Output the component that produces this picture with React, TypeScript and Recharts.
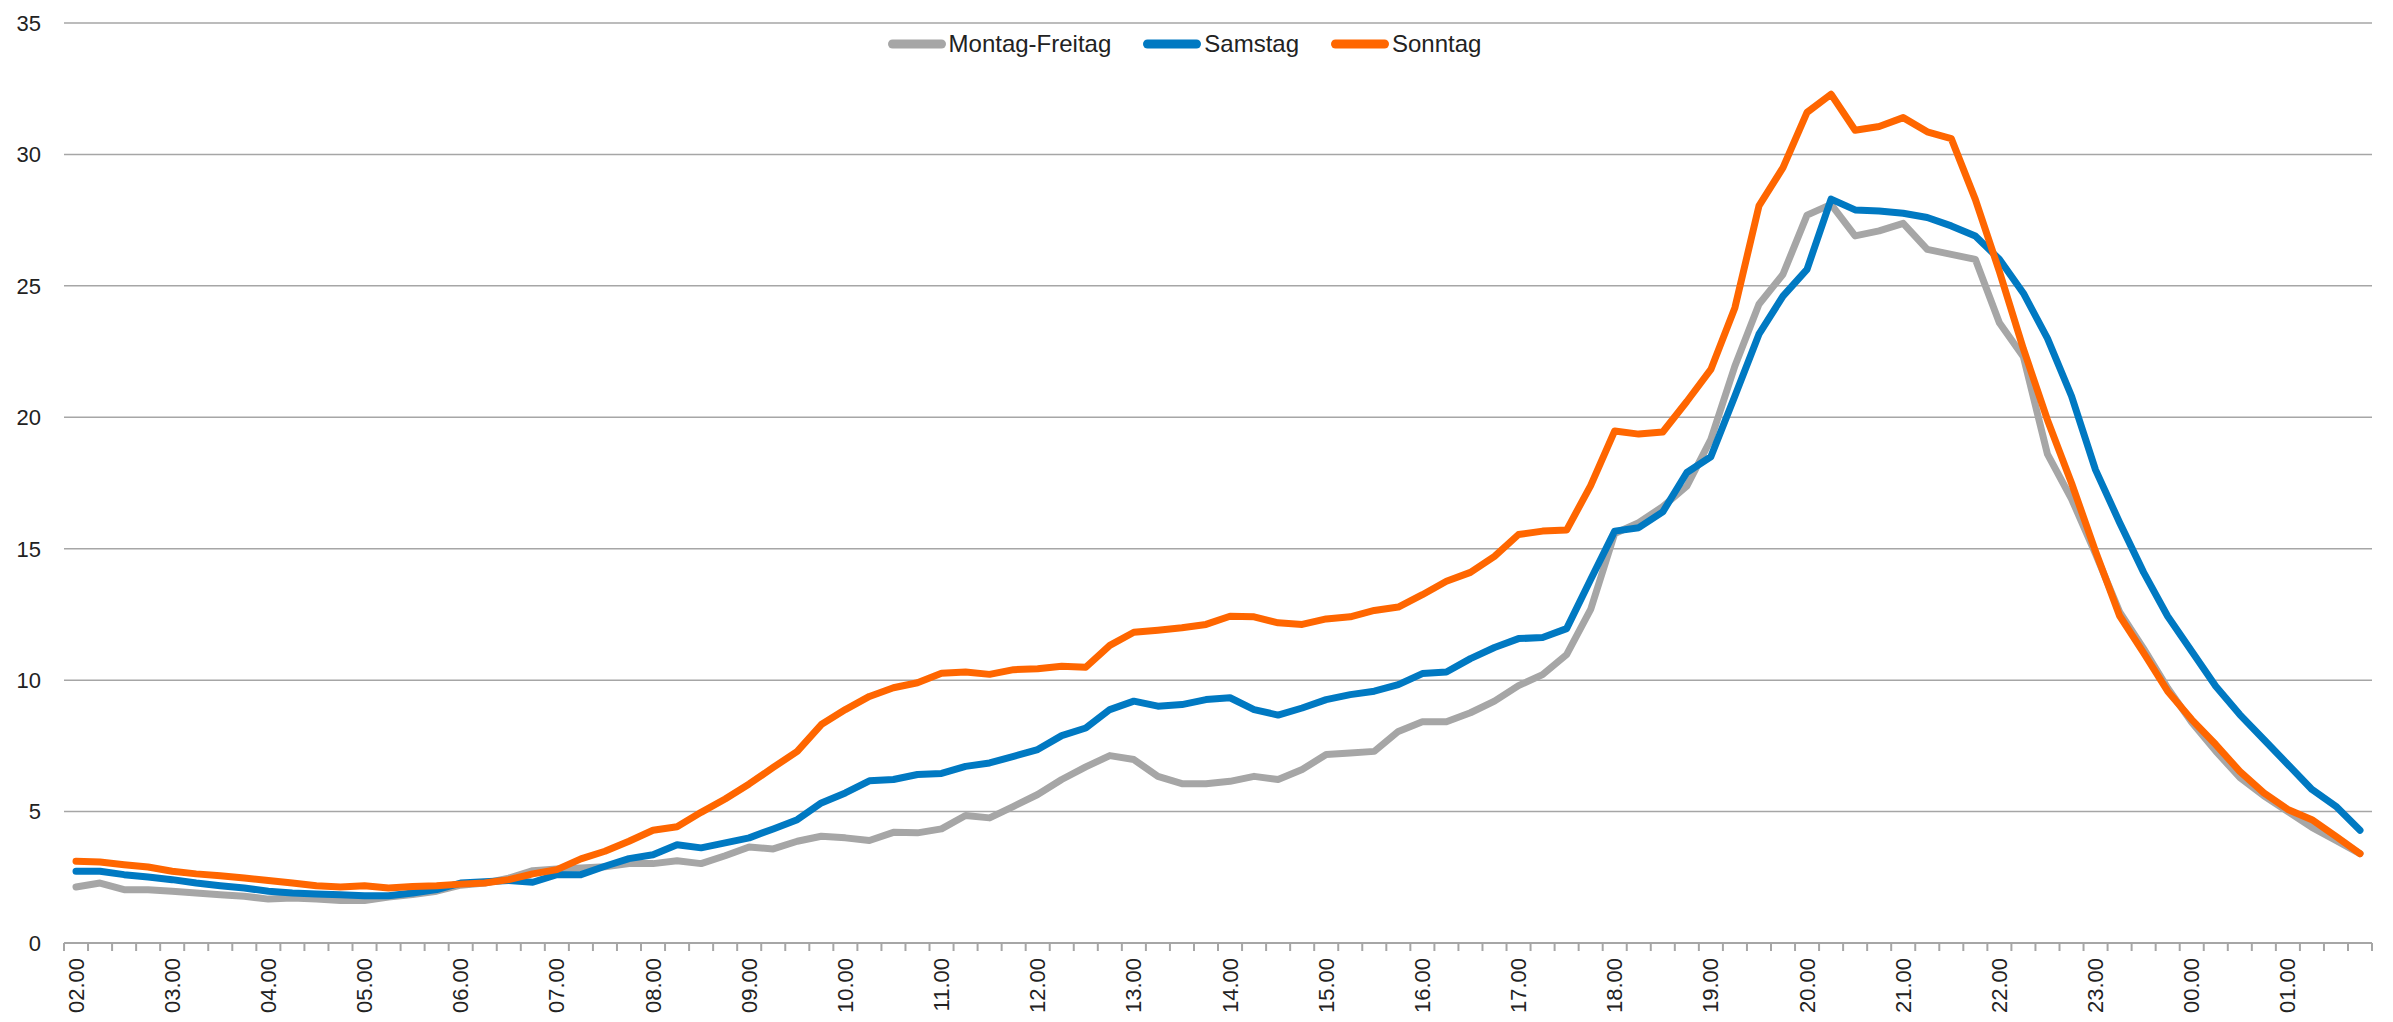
import React from 'react';
import { LineChart, Line, XAxis, YAxis, CartesianGrid, Legend } from 'recharts';

// categories: quarter-hour slots from 02.00 to 01.45
const hours = ['02', '03', '04', '05', '06', '07', '08', '09', '10', '11', '12', '13',
  '14', '15', '16', '17', '18', '19', '20', '21', '22', '23', '00', '01'];
const quarters = ['00', '15', '30', '45'];
const times = hours.flatMap((h) => quarters.map((q) => `${h}.${q}`));

const yTicks = [0, 5, 10, 15, 20, 25, 30, 35];

const montagFreitag = [
  2.13, 2.28, 2.03, 2.03, 1.97, 1.9, 1.84, 1.78, 1.67, 1.71, 1.67, 1.62,
  1.62, 1.75, 1.84, 1.97, 2.2, 2.28, 2.47, 2.75, 2.82, 2.85, 2.9, 3.02,
  3.02, 3.13, 3.02, 3.32, 3.65, 3.58, 3.87, 4.06, 4.0, 3.9, 4.21, 4.19,
  4.34, 4.85, 4.76, 5.2, 5.65, 6.22, 6.7, 7.13, 6.98, 6.34, 6.06, 6.06,
  6.15, 6.34, 6.22, 6.6, 7.17, 7.23, 7.29, 8.05, 8.42, 8.42, 8.76, 9.2,
  9.79, 10.21, 10.97, 12.69, 15.58, 15.99, 16.6, 17.38, 19.16, 21.95, 24.3, 25.44,
  27.69, 28.1, 26.9, 27.09, 27.38, 26.39, 26.2, 26.01, 23.6, 22.3, 18.6, 16.9,
  14.8, 12.6, 11.2, 9.7, 8.4, 7.3, 6.3, 5.6, 5.0, 4.4, 3.9, 3.4,
];

const samstag = [
  2.73, 2.73, 2.6, 2.51, 2.41, 2.28, 2.18, 2.09, 1.97, 1.9, 1.86, 1.84,
  1.8, 1.8, 1.9, 2.03, 2.28, 2.33, 2.38, 2.31, 2.6, 2.6, 2.92, 3.21,
  3.36, 3.74, 3.62, 3.81, 4.0, 4.34, 4.69, 5.33, 5.71, 6.17, 6.22, 6.41,
  6.45, 6.72, 6.85, 7.1, 7.36, 7.89, 8.18, 8.88, 9.2, 9.01, 9.07, 9.26,
  9.33, 8.88, 8.67, 8.94, 9.26, 9.45, 9.58, 9.83, 10.25, 10.31, 10.82, 11.24,
  11.58, 11.62, 11.96, 13.83, 15.67, 15.8, 16.4, 17.9, 18.5, 20.81, 23.16, 24.61,
  25.63, 28.3, 27.89, 27.85, 27.76, 27.6, 27.28, 26.9, 26.01, 24.72, 23.0, 20.81,
  18.0, 16.0, 14.1, 12.43, 11.1, 9.77, 8.69, 7.74, 6.79, 5.84, 5.2, 4.29,
];

const sonntag = [
  3.11, 3.08, 2.98, 2.89, 2.73, 2.63, 2.56, 2.47, 2.38, 2.28, 2.18, 2.13,
  2.18, 2.09, 2.15, 2.18, 2.24, 2.28, 2.41, 2.63, 2.79, 3.2, 3.49, 3.87,
  4.29, 4.42, 4.97, 5.48, 6.05, 6.68, 7.29, 8.31, 8.88, 9.38, 9.71, 9.9,
  10.26, 10.31, 10.22, 10.4, 10.43, 10.53, 10.49, 11.32, 11.82, 11.9, 11.99, 12.12,
  12.43, 12.41, 12.18, 12.12, 12.33, 12.41, 12.65, 12.78, 13.25, 13.76, 14.1, 14.71,
  15.54, 15.67, 15.71, 17.4, 19.48, 19.36, 19.44, 20.6, 21.82, 24.17, 28.04, 29.5,
  31.6, 32.29, 30.92, 31.06, 31.4, 30.86, 30.6, 28.29, 25.55, 22.6, 19.9, 17.5,
  14.9, 12.45, 11.04, 9.58, 8.5, 7.55, 6.53, 5.71, 5.08, 4.69, 4.06, 3.4,
];

const data = times.map((time, i) => ({
  time,
  mf: montagFreitag[i],
  sa: samstag[i],
  so: sonntag[i],
}));

const AXIS_GREY = '#a6a6a6';
const FONT = '"Liberation Sans", Arial, Helvetica, sans-serif';
const HALF_STEP = 12;

const TimeTick = (props: any) => {
  const { x, y, index, payload } = props;
  const isLast = index === times.length - 1;
  const showLabel = String(payload.value).endsWith('.00');
  const ly = y + 15;
  return (
    <g>
      <line x1={x - HALF_STEP} x2={x - HALF_STEP} y1={y} y2={y + 8} stroke={AXIS_GREY} strokeWidth={2} />
      {isLast && (
        <line x1={x + HALF_STEP} x2={x + HALF_STEP} y1={y} y2={y + 8} stroke={AXIS_GREY} strokeWidth={2} />
      )}
      {showLabel && (
        <text
          x={x}
          y={ly}
          transform={`rotate(-90 ${x} ${ly})`}
          textAnchor="end"
          dominantBaseline="central"
          fontSize={22}
          fontFamily={FONT}
          fill="#222"
        >
          {payload.value}
        </text>
      )}
    </g>
  );
};

const renderLegend = (props: any) => {
  const { payload = [] } = props;
  return (
    <div style={{ display: 'flex', justifyContent: 'center', gap: 32, paddingRight: 24, fontFamily: FONT }}>
      {payload.map((entry: any) => (
        <div key={entry.value} style={{ display: 'flex', alignItems: 'center' }}>
          <svg width={58} height={12}>
            <line x1={4.5} y1={6} x2={53.5} y2={6} stroke={entry.color} strokeWidth={9} strokeLinecap="round" />
          </svg>
          <span style={{ marginLeft: 3, fontSize: 24, color: '#222', lineHeight: '28px' }}>{entry.value}</span>
        </div>
      ))}
    </div>
  );
};

const App: React.FC = () => {
  return (
    <div style={{ position: 'absolute', left: 0, top: 0, background: '#fff' }}>
      <LineChart
        width={2393}
        height={1022}
        data={data}
        margin={{ top: 23, right: 21, left: 0, bottom: 0 }}
      >
        <CartesianGrid vertical={false} stroke={AXIS_GREY} strokeWidth={1.5} />
        <XAxis
          dataKey="time"
          scale="point"
          padding={{ left: HALF_STEP, right: HALF_STEP }}
          interval={0}
          height={79}
          tickSize={0}
          tickMargin={0}
          tickLine={false}
          axisLine={{ stroke: AXIS_GREY, strokeWidth: 2 }}
          tick={<TimeTick />}
        />
        <YAxis
          domain={[0, 35]}
          ticks={yTicks}
          width={64}
          axisLine={false}
          tickLine={false}
          tickSize={0}
          tickMargin={23}
          tick={{ fontSize: 22, fontFamily: FONT, fill: '#222' }}
        />
        <Legend
          verticalAlign="middle"
          align="center"
          content={renderLegend}
          wrapperStyle={{ top: 30, left: 0, width: 2393 }}
        />
        <Line type="linear" dataKey="mf" name="Montag-Freitag" stroke="#a6a6a6" strokeWidth={7}
          dot={false} activeDot={false} strokeLinejoin="round" strokeLinecap="round" isAnimationActive={false} />
        <Line type="linear" dataKey="sa" name="Samstag" stroke="#0079c2" strokeWidth={7}
          dot={false} activeDot={false} strokeLinejoin="round" strokeLinecap="round" isAnimationActive={false} />
        <Line type="linear" dataKey="so" name="Sonntag" stroke="#ff6600" strokeWidth={7}
          dot={false} activeDot={false} strokeLinejoin="round" strokeLinecap="round" isAnimationActive={false} />
      </LineChart>
    </div>
  );
};

export default App;
